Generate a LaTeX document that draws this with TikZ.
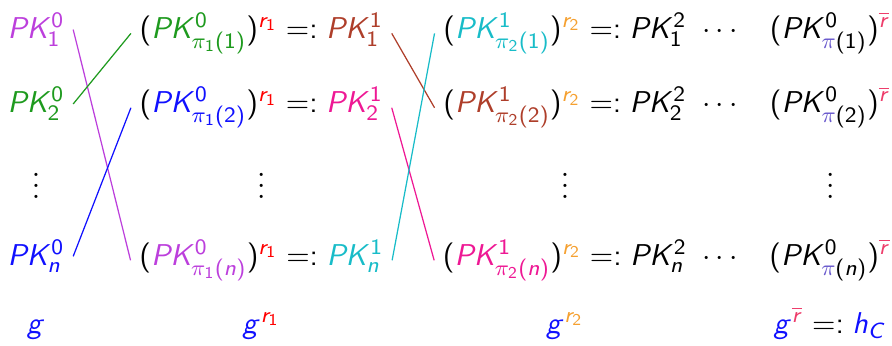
\documentclass[tikz,border=0pt,11pt]{standalone}
\usepackage{xcolor}
\usepackage{tikz}
\usetikzlibrary{positioning}
% sans-serif math, as on slides
\SetSymbolFont{operators}{normal}{OT1}{cmss}{m}{n}
\DeclareSymbolFont{sfletters}{OT1}{cmss}{m}{sl}
\DeclareMathSymbol{P}{\mathalpha}{sfletters}{`P}
\DeclareMathSymbol{K}{\mathalpha}{sfletters}{`K}
\DeclareMathSymbol{C}{\mathalpha}{sfletters}{`C}
\DeclareMathSymbol{n}{\mathalpha}{sfletters}{`n}
\DeclareMathSymbol{r}{\mathalpha}{sfletters}{`r}
\DeclareMathSymbol{g}{\mathalpha}{sfletters}{`g}
\DeclareMathSymbol{h}{\mathalpha}{sfletters}{`h}
\definecolor{cViol}{HTML}{BC3FDC}
\definecolor{cGrn}{HTML}{1E9A1E}
\definecolor{cBlu}{HTML}{1010FF}
\definecolor{cBrn}{HTML}{AE3E2A}
\definecolor{cPnk}{HTML}{EE1894}
\definecolor{cCyn}{HTML}{18BCC8}
\definecolor{cOrg}{HTML}{F5A030}
\definecolor{cRbar}{HTML}{EE3D6B}
\definecolor{cPi}{HTML}{6A5ACD}
\newcommand{\pkc}[3]{\textcolor{#1}{PK^{#2}_{#3}}}
\tikzset{
  ent/.style={anchor=base, inner sep=3pt},
  perm/.style={line width=0.45pt, draw=#1},
}

\begin{document}
\begin{tikzpicture}
  \useasboundingbox (0,0) rectangle (11.4,-4.41);
  % round 0
  \node[ent] (p1) at (0.46,-0.49) {$\pkc{cViol}{0}{1}$};
  \node[ent] (p2) at (0.46,-1.44) {$\pkc{cGrn}{0}{2}$};
  \node[ent] (pv) at (0.46,-2.54) {$\vdots$};
  \node[ent] (pn) at (0.46,-3.39) {$\pkc{cBlu}{0}{n}$};
  \node[ent] (g0) at (0.46,-4.26) {$\textcolor{cBlu}{g}$};
  % round 1
  \node[ent] (a1) at (3.34,-0.49) {$(\pkc{cGrn}{0}{\pi_1(1)})^{\textcolor{red}{r_1}} =: \pkc{cBrn}{1}{1}$};
  \node[ent] (a2) at (3.34,-1.44) {$(\pkc{cBlu}{0}{\pi_1(2)})^{\textcolor{red}{r_1}} =: \pkc{cPnk}{1}{2}$};
  \node[ent] (av) at (3.34,-2.54) {$\vdots$};
  \node[ent] (an) at (3.34,-3.39) {$(\pkc{cViol}{0}{\pi_1(n)})^{\textcolor{red}{r_1}} =: \pkc{cCyn}{1}{n}$};
  \node[ent] (g1) at (3.34,-4.26) {$\textcolor{cBlu}{g}^{\textcolor{red}{r_1}}$};
  % round 2
  \node[ent] (b1) at (7.22,-0.49) {$(\pkc{cCyn}{1}{\pi_2(1)})^{\textcolor{cOrg}{r_2}} =: PK^2_1$};
  \node[ent] (b2) at (7.22,-1.44) {$(\pkc{cBrn}{1}{\pi_2(2)})^{\textcolor{cOrg}{r_2}} =: PK^2_2$};
  \node[ent] (bv) at (7.22,-2.54) {$\vdots$};
  \node[ent] (bn) at (7.22,-3.39) {$(\pkc{cPnk}{1}{\pi_2(n)})^{\textcolor{cOrg}{r_2}} =: PK^2_n$};
  \node[ent] (g2) at (7.22,-4.26) {$\textcolor{cBlu}{g}^{\textcolor{cOrg}{r_2}}$};
  % dots
  \node[ent] (d1) at (9.2,-0.49) {$\cdots$};
  \node[ent] (d2) at (9.2,-1.44) {$\cdots$};
  \node[ent] (dn) at (9.2,-3.39) {$\cdots$};
  % last round
  \node[ent] (c1) at (10.61,-0.49) {$(PK^0_{\textcolor{cPi}{\pi}(1)})^{\textcolor{cRbar}{\overline{r}}}$};
  \node[ent] (c2) at (10.61,-1.44) {$(PK^0_{\textcolor{cPi}{\pi}(2)})^{\textcolor{cRbar}{\overline{r}}}$};
  \node[ent] (cv) at (10.61,-2.54) {$\vdots$};
  \node[ent] (cn) at (10.61,-3.39) {$(PK^0_{\textcolor{cPi}{\pi}(n)})^{\textcolor{cRbar}{\overline{r}}}$};
  \node[ent] (g3) at (10.61,-4.26) {$\textcolor{cBlu}{g}^{\textcolor{cRbar}{\overline{r}}} =: \textcolor{cBlu}{h_C}$};

  \draw[perm=cViol] (p1.east) -- (an.west);
  \draw[perm=cGrn]  (p2.east) -- (a1.west);
  \draw[perm=cBlu]  (pn.east) -- (a2.west);
  \draw[perm=cBrn]  (a1.east) -- (b2.west);
  \draw[perm=cPnk]  (a2.east) -- (bn.west);
  \draw[perm=cCyn]  (an.east) -- (b1.west);
\end{tikzpicture}
\end{document}
